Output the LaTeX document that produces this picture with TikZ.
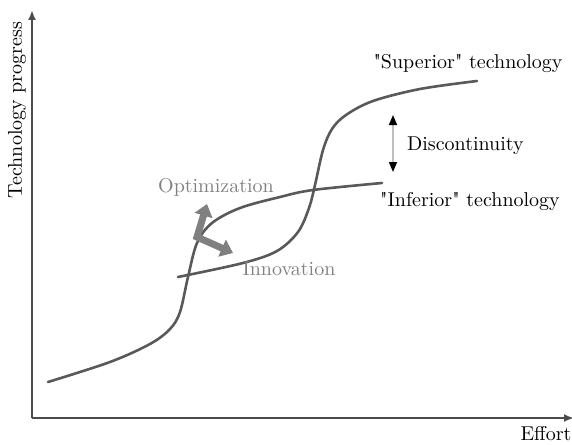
\documentclass[tikz,border=0pt]{standalone}
\usetikzlibrary{arrows.meta}

\tikzset{
  curve/.style={line width=1.3pt, color=black!65, line cap=round},
  axis/.style={line width=1pt, color=black!70, -{Latex[length=5pt,width=4pt]}},
  graytext/.style={text=black!50},
}

\begin{document}
\begin{tikzpicture}[x=0.5pt, y=-0.5pt]
	\useasboundingbox (0,0) rectangle (572,444);
	% axes
	\coordinate (origin) at (32,418);
	\coordinate (ytop) at (32,10);
	\coordinate (xend) at (574,418);
	\draw [axis] (origin) -- (ytop);
	\draw [axis] (origin) -- (xend);
	\node [rotate=90] (ylab) at (17,110) {Technology progress};
	\node [] (xlab) at (546,434) {Effort};

	% inferior technology
	\draw [curve] plot [smooth, tension=0.55] coordinates {(48,382) (110,362) (150,344) (170,329) (180,312) (188,277) (197,243) (212,223) (240,208) (280,197) (313,190) (382,183)};
	% superior technology
	\draw [curve] plot [smooth, tension=0.55] coordinates {(178,277) (243,263) (277,251) (298,232) (309,208) (315,185) (323,150) (332,129) (346,115) (373,101) (420,89) (477,81)};

	\node [] (sup) at (468,64) {\textquotedbl Superior\textquotedbl{} technology};
	\node [] (inf) at (470,202) {\textquotedbl Inferior\textquotedbl{} technology};

	% discontinuity
	\coordinate (dtop) at (393,115);
	\coordinate (dbot) at (393,172);
	\draw [black!25, line width=0.8pt, {Triangle[length=5pt,width=4pt,black]}-{Triangle[length=5pt,width=4pt,black]}] (dtop) -- (dbot);
	\node [right] (disc) at (400,146) {Discontinuity};

	% optimization / innovation
	\node [graytext] (opt) at (216,187) {Optimization};
	\node [graytext] (inn) at (289,269) {Innovation};
	\coordinate (corner) at (197,237);
	\coordinate (optip) at (207,204);
	\coordinate (inntip) at (233,253);
	\draw [black!50, line width=3.5pt, {Triangle[length=6pt,width=9pt]}-{Triangle[length=6pt,width=9pt]}] (optip) -- (corner) -- (inntip);
\end{tikzpicture}
\end{document}
